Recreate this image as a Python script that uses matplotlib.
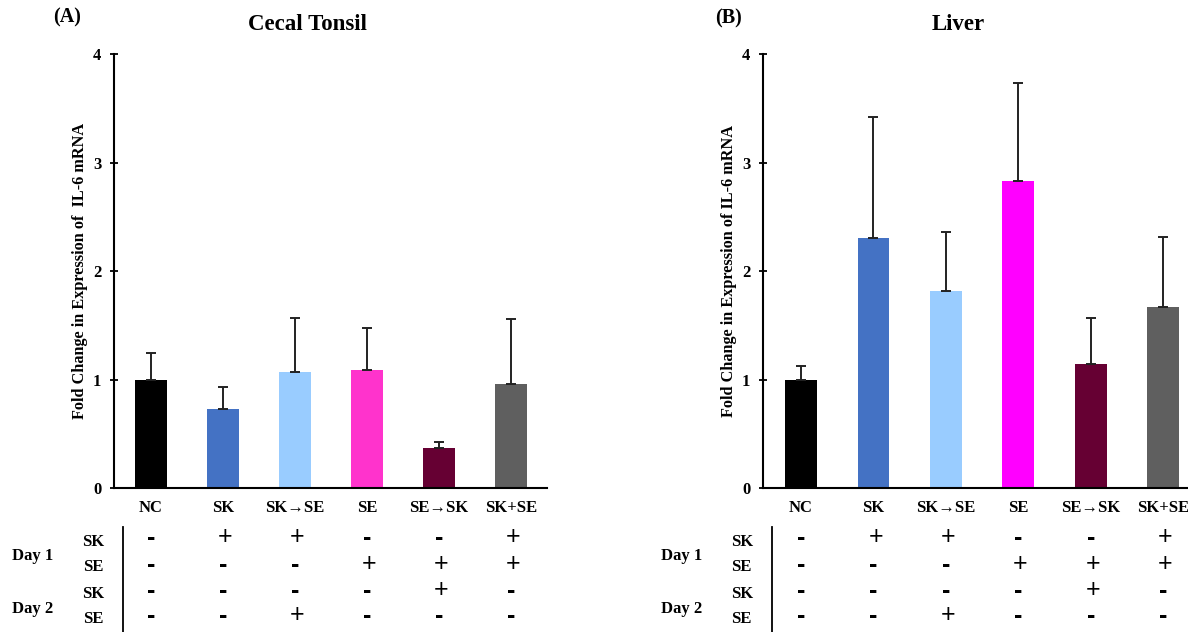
import matplotlib.pyplot as plt
import matplotlib.transforms as mtransforms
import numpy as np

# IL-6 fold change (mean and upper SEM) per treatment group
groups = ["NC", "SK", "SK→SE", "SE", "SE→SK", "SK+SE"]

cecal_mean = [1.00, 0.73, 1.07, 1.09, 0.37, 0.96]
cecal_sem = [0.25, 0.20, 0.50, 0.39, 0.06, 0.60]

liver_mean = [1.00, 2.31, 1.82, 2.83, 1.15, 1.67]
liver_sem = [0.13, 1.11, 0.54, 0.91, 0.42, 0.65]

cecal_colors = ["#000000", "#4472C4", "#99CCFF", "#FF33CC", "#660033", "#5F5F5F"]
liver_colors = ["#000000", "#4472C4", "#99CCFF", "#FF00FF", "#660033", "#5F5F5F"]

# treatment schedule shown under each panel
row_labels = ["SK", "SE", "SK", "SE"]
day1_sk = ["-", "+", "+", "-", "-", "+"]
day1_se = ["-", "-", "-", "+", "+", "+"]
day2_sk = ["-", "-", "-", "-", "+", "-"]
day2_se = ["-", "-", "+", "-", "-", "-"]

W, H = 1188, 632
SERIF = ["Liberation Serif", "DejaVu Serif"]


def px_axes(fig, x0, x1, ytop, ybot):
    return fig.add_axes([x0 / W, (H - ybot) / H, (x1 - x0) / W, (ybot - ytop) / H])


def draw_panel(fig, ax, means, sems, colors, xlim, ylabel):
    x = np.arange(len(groups))
    ax.bar(x, means, width=0.44, color=colors, zorder=2)
    lower = np.zeros(len(sems))
    ax.errorbar(x, means, yerr=[lower, sems], fmt="none", ecolor="#222222",
                elinewidth=1.4, capsize=3.5, capthick=1.4, zorder=3)

    ax.set_xlim(*xlim)
    ax.set_ylim(0, 4)
    ax.set_yticks([0, 1, 2, 3, 4])
    ax.set_xticks([])
    for side in ("top", "right"):
        ax.spines[side].set_visible(False)
    for side in ("left", "bottom"):
        ax.spines[side].set_linewidth(1.5)
    ax.tick_params(axis="y", direction="inout", length=6, width=1.3, pad=6,
                   labelsize=12)
    for lab in ax.get_yticklabels():
        lab.set_family(SERIF)
        lab.set_fontweight("bold")
    ax.set_ylabel(ylabel, family=SERIF, fontweight="bold", fontsize=11.7)
    ax.yaxis.set_label_coords(-0.06, 0.5)

    # category names and the +/- schedule, columns follow the bars
    trans = mtransforms.blended_transform_factory(ax.transData, fig.transFigure)
    for i, name in enumerate(groups):
        ax.text(i, 1 - 508 / H, name, transform=trans, ha="center", va="center",
                family=SERIF, fontweight="bold", fontsize=12, clip_on=False)

    rows = [day1_sk, day1_se, day2_sk, day2_se]
    row_y = [537, 564, 590, 615]
    for signs, yy in zip(rows, row_y):
        for i, s in enumerate(signs):
            if s == "+":
                ax.text(i + 0.03, 1 - yy / H, "+", transform=trans, ha="center",
                        va="center", family="Liberation Sans", fontsize=18,
                        clip_on=False)
            else:
                ax.text(i, 1 - (yy + 1) / H, "-", transform=trans, ha="center",
                        va="center", family="Liberation Sans", fontweight="bold",
                        fontsize=18, clip_on=False)

    x0 = ax.get_position().x0 * W
    for lab, yy in zip(row_labels, [542, 567, 594, 619]):
        fig.text((x0 - 21) / W, 1 - yy / H, lab, ha="center", va="center",
                 family=SERIF, fontweight="bold", fontsize=12)
    fig.text((x0 - 81) / W, 1 - 556 / H, "Day 1", ha="center", va="center",
             family=SERIF, fontweight="bold", fontsize=12)
    fig.text((x0 - 81) / W, 1 - 609 / H, "Day 2", ha="center", va="center",
             family=SERIF, fontweight="bold", fontsize=12)
    fig.add_artist(plt.Line2D([(x0 + 9) / W] * 2, [1 - 527 / H, 0],
                              transform=fig.transFigure, color="black", lw=1.3))


fig = plt.figure(figsize=(W / 100, H / 100), dpi=100)

ax1 = px_axes(fig, 114, 547, 54.3, 488.3)
draw_panel(fig, ax1, cecal_mean, cecal_sem, cecal_colors, (-0.514, 5.5),
           "Fold Change in Expression of  IL-6 mRNA")

ax2 = px_axes(fig, 762.7, 1187, 54.3, 488.3)
draw_panel(fig, ax2, liver_mean, liver_sem, liver_colors, (-0.53, 5.33),
           "Fold Change in Expression of IL-6 mRNA")

fig.text(307 / W, 1 - 24 / H, "Cecal Tonsil", ha="center", va="center",
         family=SERIF, fontweight="bold", fontsize=16.5)
fig.text(958 / W, 1 - 24 / H, "Liver", ha="center", va="center",
         family=SERIF, fontweight="bold", fontsize=16.5)
fig.text(67 / W, 1 - 17 / H, "(A)", ha="center", va="center",
         family=SERIF, fontweight="bold", fontsize=14.5)
fig.text(728 / W, 1 - 18 / H, "(B)", ha="center", va="center",
         family=SERIF, fontweight="bold", fontsize=14.5)

fig.savefig("out.png", dpi=100, facecolor="white")
